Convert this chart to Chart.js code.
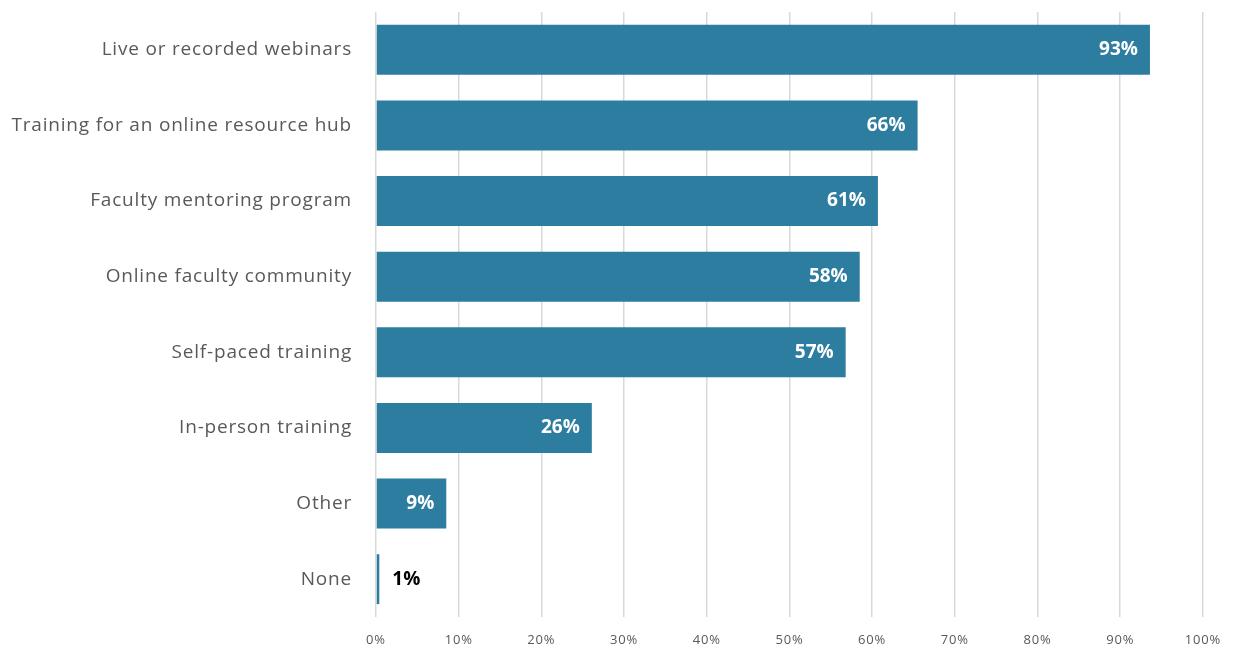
<!DOCTYPE html>
<html>
<head>
<meta charset="utf-8">
<script src="https://cdn.jsdelivr.net/npm/chart.js@4/dist/chart.umd.min.js"></script>
<style>
  body { margin: 0; background: #fff; }
</style>
</head>
<body>
<canvas id="chart" width="1236" height="649"></canvas>
<script>
const categories = [
    "Live or recorded webinars",
    "Training for an online resource hub",
    "Faculty mentoring program",
    "Online faculty community",
    "Self-paced training",
    "In-person training",
    "Other",
    "None"
];
const values = [93.6, 65.5, 60.7, 58.5, 56.8, 26.1, 8.5, 0.4];
const valueLabels = ["93%", "66%", "61%", "58%", "57%", "26%", "9%", "1%"];
const xTicks = [0, 10, 20, 30, 40, 50, 60, 70, 80, 90, 100];

// wider letter spacing for the axis text, closer to the original look
const spacing = {
    id: "spacing",
    beforeLayout(chart) { chart.ctx.letterSpacing = "0.8px"; },
    beforeDraw(chart) { chart.ctx.letterSpacing = "0.8px"; }
};

const barLabels = {
    id: "barLabels",
    afterDatasetsDraw(chart) {
        const ctx = chart.ctx;
        const meta = chart.getDatasetMeta(0);
        ctx.save();
        ctx.letterSpacing = "0px";
        ctx.font = "bold 19px 'Open Sans'";
        ctx.textBaseline = "middle";
        meta.data.forEach((bar, i) => {
            const text = valueLabels[i];
            const w = ctx.measureText(text).width;
            const inside = bar.x - bar.base > w + 20;
            if (inside) {
                ctx.fillStyle = "#ffffff";
                ctx.textAlign = "right";
                ctx.fillText(text, bar.x - 12, bar.y);
            } else {
                ctx.fillStyle = "#000000";
                ctx.textAlign = "left";
                ctx.fillText(text, bar.x + 13, bar.y);
            }
        });
        ctx.restore();
    }
};

new Chart(document.getElementById("chart").getContext("2d"), {
    type: "bar",
    data: {
        labels: categories,
        datasets: [{
            data: values,
            backgroundColor: "#2D7DA1",
            borderWidth: 0,
            barPercentage: 0.66,
            categoryPercentage: 1
        }]
    },
    options: {
        indexAxis: "y",
        responsive: false,
        animation: false,
        layout: { padding: { top: 12, right: 32, bottom: 0, left: 0 } },
        plugins: {
            legend: { display: false },
            tooltip: { enabled: false }
        },
        scales: {
            x: {
                min: 0,
                max: 100,
                afterBuildTicks: s => { s.ticks = xTicks.map(v => ({ value: v })); },
                afterFit: s => { s.height = 32; },
                border: { display: false },
                grid: { color: "#d9d9d9", lineWidth: 1.5, drawTicks: false },
                ticks: {
                    padding: 15,
                    color: "#595959",
                    font: { family: "Open Sans", size: 13 },
                    callback: v => v + "%"
                }
            },
            y: {
                afterFit: s => {
                    s.width = 376;
                    s.paddingTop = 0;
                    s.paddingBottom = 0;
                },
                border: { display: false },
                grid: { display: false, drawTicks: false },
                ticks: {
                    padding: 24,
                    color: "#595959",
                    font: { family: "Open Sans", size: 19 }
                }
            }
        }
    },
    plugins: [spacing, barLabels]
});
</script>
</body>
</html>
